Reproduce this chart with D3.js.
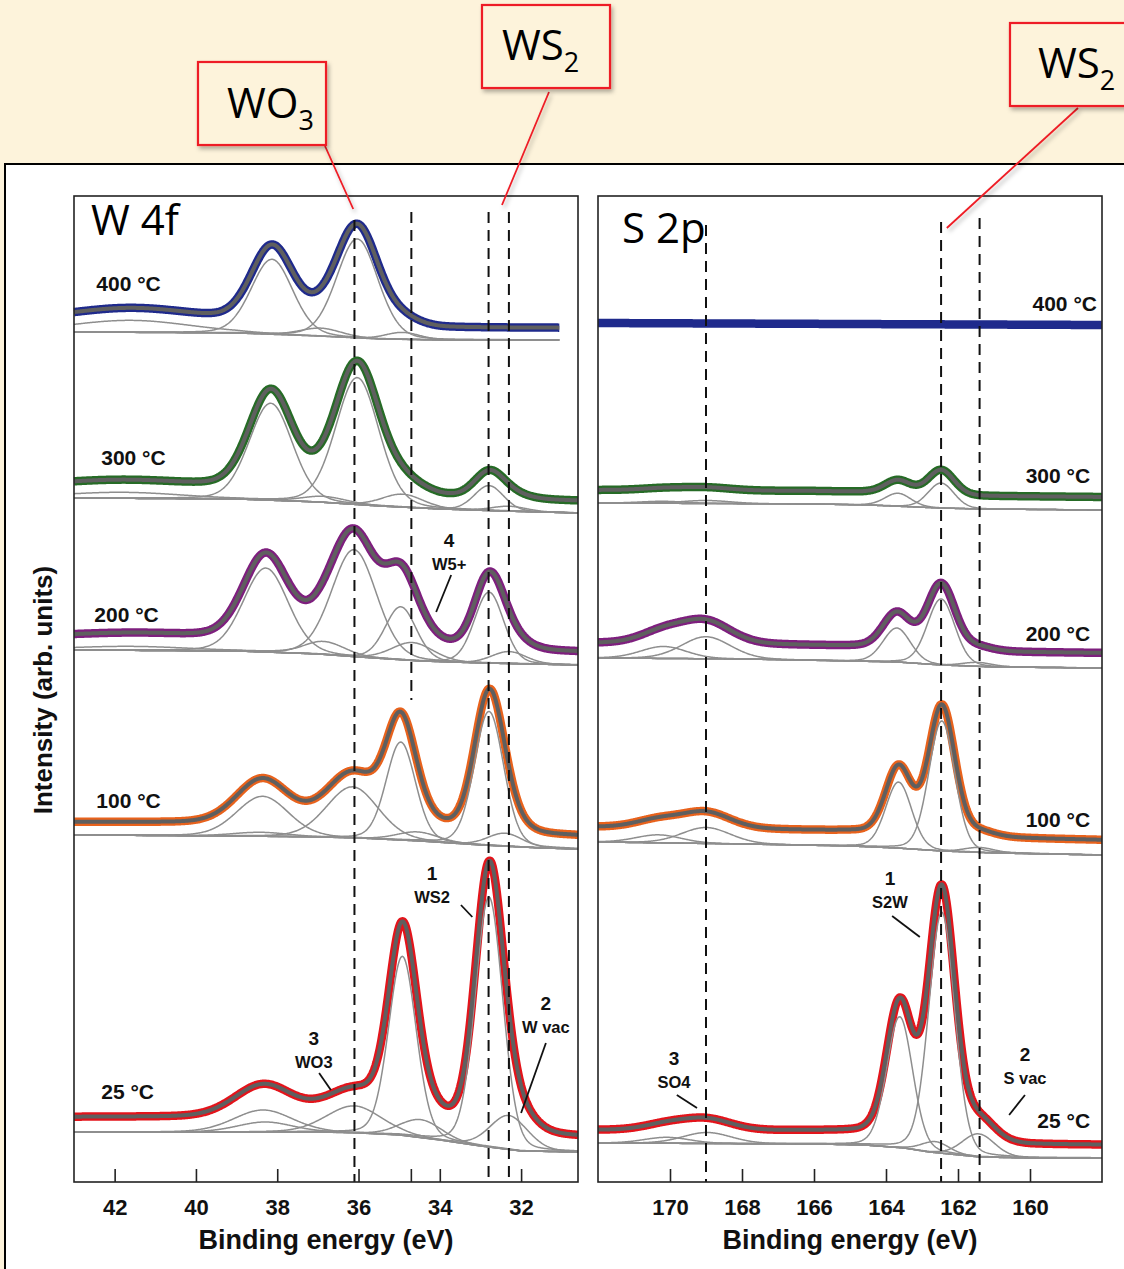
<!DOCTYPE html>
<html><head><meta charset="utf-8">
<script src="https://cdn.jsdelivr.net/npm/d3@7"></script>
<style>
html,body{margin:0;padding:0;background:#FDF3DB;}
svg{display:block;}
</style></head><body>
<svg id="chart" width="1124" height="1269"></svg>
<script>
// ================= DATA =================
const temperatures = ["400 °C", "300 °C", "200 °C", "100 °C", "25 °C"];
const seriesColors = ["#1f2a8c", "#266b26", "#7e1f7e", "#e8621c", "#e3141b"];

// W 4f panel
const w4fTicks = [42, 40, 38, 36, 34, 32];
const w4fExtraTicks = [34.7];
const w4fRanges = [[43, 31.06], [43, 30.6], [43, 30.6], [43, 30.6], [43, 30.6]];
const w4fBackgrounds = [
  [[43, 850], [39, 849], [37, 846], [35.5, 843], [34, 842], [31.06, 842]],
  [[43, 684], [39, 683], [37, 680], [35.5, 676], [34, 673], [32.5, 671], [30.6, 669]],
  [[43, 532], [39, 531], [37, 528], [36, 525], [34.5, 521], [33, 519], [30.6, 517]],
  [[43, 347], [39, 346], [37, 345], [36, 344], [34.5, 341], [33, 337], [31.5, 334], [30.6, 333]],
  [[43, 50], [37, 50], [36, 49], [35, 47], [34, 42], [33, 36], [32, 31], [30.6, 30]]
];
const w4fOffsets = [12, 12, 13, 13, 15];
// components: [centre eV, height, FWHM eV]
const w4fComponents = [
  [[41.6, 12, 3.5], [38.13, 75, 1.2], [36.03, 99, 1.2], [36.93, 8, 1.2], [34.92, 7, 1.0]],
  [[41.8, 6, 3.5], [38.16, 97, 1.25], [36.03, 127, 1.25], [36.85, 6, 1.3], [34.92, 13, 1.2], [32.79, 25, 0.85], [32.3, 5, 1.0]],
  [[41.6, 4, 3.5], [38.28, 84, 1.3], [36.11, 107, 1.3], [36.85, 13, 1.2], [34.96, 53, 0.9], [34.67, 18, 1.2], [32.79, 71, 0.85], [32.3, 12, 1.0]],
  [[38.36, 40, 1.5], [38.4, 4, 1.6], [36.15, 51, 1.5], [34.96, 98, 0.85], [34.55, 9, 1.2], [32.79, 134, 0.85], [32.4, 13, 1.0]],
  [[38.35, 22, 1.7], [38.3, 10, 1.6], [36.11, 27, 1.6], [34.92, 179, 0.8], [34.47, 18, 1.2], [32.79, 250, 0.8], [32.3, 34, 1.1]]
];
// reference dashed lines: [eV, top value, bottom value]
const w4fRefLines = [[36.1, 962, 0], [34.7, 970, 482], [32.8, 970, 0], [32.3, 970, 0]];
// temperature label anchors: [eV, value]
const w4fLabelPos = [[42.45, 891], [42.33, 717], [42.5, 560], [42.45, 374], [42.33, 83]];
// peak notes: [number, name, eV, value, line eV1, line v1, line eV2, line v2]
const w4fNotes = [
  ["4", "W5+", 33.77, 635, 33.72, 607, 34.09, 570],
  ["1", "WS2", 34.19, 302, 33.48, 277, 33.20, 265],
  ["3", "WO3", 37.10, 137, 36.97, 109, 36.68, 92],
  ["2", "W vac", 31.39, 172, 31.39, 139, 32.0, 69]
];

// S 2p panel
const s2pTicks = [170, 168, 166, 164, 162, 160];
const s2pRanges = [[172, 158], [172, 158], [172, 158], [172, 158], [172, 158]];
const s2pBackgrounds = [
  [[172, 859], [165, 858], [158, 857]],
  [[172, 679], [166, 678], [164.5, 677], [162.5, 674], [161.4, 673], [158, 672]],
  [[172, 524], [168, 523], [165, 521], [163.7, 520], [162.47, 517], [161, 515], [158, 514]],
  [[172, 340], [168, 338], [165, 336], [163.7, 334], [162.45, 331], [161, 329], [158, 327]],
  [[172, 39], [166, 38], [164.6, 37], [163.5, 34], [162.8, 30], [161.4, 25], [160, 24], [158, 24]]
];
const s2pOffsets = [0, 13, 15, 15, 13];
const s2pComponents = [
  [],
  [[169.0, 3, 1.6], [170.2, 2, 1.5], [163.67, 13, 0.85], [162.47, 25, 0.85]],
  [[169.0, 22, 1.6], [170.18, 12, 1.5], [163.70, 34, 0.9], [162.47, 66, 0.9], [161.45, 4, 1.0]],
  [[169.0, 16, 1.6], [170.32, 8, 1.5], [163.65, 66, 0.85], [162.45, 130, 0.85], [161.4, 5, 1.0]],
  [[168.97, 11, 1.6], [170.09, 6, 1.5], [163.62, 131, 0.85], [162.45, 241, 0.85], [162.63, 11, 0.9], [161.43, 23, 1.05]]
];
const s2pRefLines = [[169.0, 957, 0], [162.47, 960, 0], [161.4, 964, 0]];
const s2pLabelPos = [[158.14, 871], [158.33, 699], [158.33, 541], [158.33, 355], [158.33, 54]];
const s2pNotes = [
  ["1", "S2W", 163.89, 297, 163.83, 266, 163.06, 245],
  ["3", "SO4", 169.89, 117, 169.81, 87, 169.25, 74],
  ["2", "S vac", 160.14, 121, 160.14, 87, 160.58, 67]
];

// call-out boxes
const calloutMain = ["WO", "WS", "WS"];
const calloutSub = ["3", "2", "2"];
const calloutTargets = [[0, 36.13, 973], [0, 32.47, 977], [1, 162.31, 954]]; // [panel, eV, value]

// ================= DRAWING =================
const BG = "#FDF3DB";
const ARIAL = "'Liberation Sans', Arial, Helvetica, sans-serif";
const CALIBRI = "'Open Sans', 'Noto Sans', sans-serif";
const LOR = 0.15;
function pv(e, c, h, w) {
  const t = (e - c) / w;
  return h * ((1 - LOR) * Math.exp(-4 * Math.LN2 * t * t) + LOR / (1 + 4 * t * t));
}

const svg = d3.select("#chart");
const defs = svg.append("defs");
const f = defs.append("filter").attr("id", "shadow").attr("x", "-20%").attr("y", "-20%").attr("width", "150%").attr("height", "150%");
f.append("feDropShadow").attr("dx", 2).attr("dy", 3).attr("stdDeviation", 2).attr("flood-color", "#000").attr("flood-opacity", 0.3);

svg.append("rect").attr("width", 1124).attr("height", 1269).attr("fill", BG);
svg.append("rect").attr("x", 5).attr("y", 164).attr("width", 1140).attr("height", 1140)
  .attr("fill", "#fff").attr("stroke", "#000").attr("stroke-width", 2);

const PT = 196, PB = 1182;
const y = d3.scaleLinear().domain([0, PB - PT]).range([PB, PT]);

const panels = [
  { domain: [43, 30.6], range: [74, 578], ticks: w4fTicks, extra: w4fExtraTicks, ranges: w4fRanges,
    bgs: w4fBackgrounds, offs: w4fOffsets, comps: w4fComponents, refs: w4fRefLines,
    labels: w4fLabelPos, anchor: "start", notes: w4fNotes, title: "W 4f", titleX: 91, titleY: 235 },
  { domain: [172, 158], range: [598, 1102], ticks: s2pTicks, extra: [], ranges: s2pRanges,
    bgs: s2pBackgrounds, offs: s2pOffsets, comps: s2pComponents, refs: s2pRefLines,
    labels: s2pLabelPos, anchor: "end", notes: s2pNotes, title: "S 2p", titleX: 622, titleY: 243 }
];
const xScales = [];

panels.forEach((p, pi) => {
  const x = d3.scaleLinear().domain(p.domain).range(p.range);
  xScales.push(x);
  const g = svg.append("g");
  const line = d3.line().x(d => x(d[0])).y(d => y(d[1]));

  temperatures.forEach((t, i) => {
    const bgPts = p.bgs[i];
    const bgFn = d3.scaleLinear().domain(bgPts.map(d => d[0])).range(bgPts.map(d => d[1])).clamp(true);
    const lo = Math.min(...p.ranges[i]), hi = Math.max(...p.ranges[i]);
    const es = d3.range(lo, hi + 1e-9, 0.02);
    const comps = p.comps[i];
    const env = es.map(e => [e, bgFn(e) + p.offs[i] + d3.sum(comps, c => pv(e, c[0], c[1], c[2]))]);
    g.append("path").attr("d", line(env)).attr("fill", "none")
      .attr("stroke", seriesColors[i]).attr("stroke-width", 8.5).attr("stroke-linejoin", "round");
    if (comps.length) {
      g.append("path").attr("d", line(es.map(e => [e, bgFn(e)]))).attr("fill", "none")
        .attr("stroke", "#8e8e8e").attr("stroke-width", 1.5);
      comps.forEach(c => {
        g.append("path").attr("d", line(es.map(e => [e, bgFn(e) + pv(e, c[0], c[1], c[2])])))
          .attr("fill", "none").attr("stroke", "#8e8e8e").attr("stroke-width", 1.5);
      });
      g.append("path").attr("d", line(env)).attr("fill", "none")
        .attr("stroke", "#5f5f5f").attr("stroke-width", 4).attr("stroke-linejoin", "round");
    }
    g.append("text").attr("x", x(p.labels[i][0])).attr("y", y(p.labels[i][1]))
      .attr("text-anchor", p.anchor).attr("font-family", ARIAL).attr("font-weight", "bold")
      .attr("font-size", 21).attr("fill", "#111").text(t);
  });

  p.refs.forEach(r => {
    g.append("line").attr("x1", x(r[0])).attr("x2", x(r[0])).attr("y1", y(r[1])).attr("y2", y(r[2]))
      .attr("stroke", "#111").attr("stroke-width", 2).attr("stroke-dasharray", "11,7");
  });

  p.notes.forEach(n => {
    g.append("text").attr("x", x(n[2])).attr("y", y(n[3])).attr("text-anchor", "middle")
      .attr("font-family", ARIAL).attr("font-weight", "bold").attr("font-size", 19).attr("fill", "#111").text(n[0]);
    g.append("text").attr("x", x(n[2])).attr("y", y(n[3]) + 23).attr("text-anchor", "middle")
      .attr("font-family", ARIAL).attr("font-weight", "bold").attr("font-size", 16.5).attr("fill", "#111").text(n[1]);
    g.append("line").attr("x1", x(n[4])).attr("y1", y(n[5])).attr("x2", x(n[6])).attr("y2", y(n[7]))
      .attr("stroke", "#111").attr("stroke-width", 1.8);
  });

  g.append("rect").attr("x", p.range[0]).attr("y", PT).attr("width", p.range[1] - p.range[0]).attr("height", PB - PT)
    .attr("fill", "none").attr("stroke", "#222").attr("stroke-width", 1.6);

  const ax = g.append("g").attr("transform", `translate(0,${PB})`)
    .call(d3.axisBottom(x).tickValues(p.ticks).tickSizeInner(-13).tickSizeOuter(0).tickPadding(17).tickFormat(d3.format("d")));
  ax.select(".domain").remove();
  ax.selectAll(".tick line").attr("stroke", "#222").attr("stroke-width", 1.6);
  ax.selectAll(".tick text").attr("font-family", ARIAL).attr("font-weight", "bold").attr("font-size", 22).attr("fill", "#111");
  p.extra.forEach(t => {
    g.append("line").attr("x1", x(t)).attr("x2", x(t)).attr("y1", PB).attr("y2", PB - 13)
      .attr("stroke", "#222").attr("stroke-width", 1.6);
  });
  g.append("text").attr("x", (p.range[0] + p.range[1]) / 2).attr("y", 1249).attr("text-anchor", "middle")
    .attr("font-family", ARIAL).attr("font-weight", "bold").attr("font-size", 27).attr("fill", "#111")
    .text("Binding energy (eV)");

  g.append("text").attr("x", p.titleX).attr("y", p.titleY).attr("font-family", CALIBRI)
    .attr("font-size", 42).attr("fill", "#000").text(p.title);
});

svg.append("text").attr("transform", "translate(52,690) rotate(-90)").attr("text-anchor", "middle")
  .attr("font-family", ARIAL).attr("font-weight", "bold").attr("font-size", 26).attr("fill", "#111")
  .text("Intensity (arb. units)");

const boxRects = [[198, 62, 128, 83], [482, 5, 128, 83], [1010, 23, 140, 83]];
const textPos = [[227, 118], [502, 60], [1038, 78]];
const lineStarts = [[325, 146], [549, 92], [1078, 108]];
calloutMain.forEach((m, i) => {
  const b = boxRects[i];
  const tgt = calloutTargets[i];
  const xs = xScales[tgt[0]];
  svg.append("line").attr("x1", lineStarts[i][0]).attr("y1", lineStarts[i][1])
    .attr("x2", xs(tgt[1])).attr("y2", y(tgt[2]))
    .attr("stroke", "#ee1c25").attr("stroke-width", 1.8).attr("filter", "url(#shadow)");
  svg.append("rect").attr("x", b[0]).attr("y", b[1]).attr("width", b[2]).attr("height", b[3])
    .attr("fill", BG).attr("stroke", "#ee1c25").attr("stroke-width", 2.2).attr("filter", "url(#shadow)");
  const t = svg.append("text").attr("x", textPos[i][0]).attr("y", textPos[i][1])
    .attr("font-family", CALIBRI).attr("font-size", 42).attr("fill", "#000");
  t.append("tspan").text(m);
  t.append("tspan").attr("font-size", 27).attr("dy", 12).text(calloutSub[i]);
});
</script>
</body></html>
